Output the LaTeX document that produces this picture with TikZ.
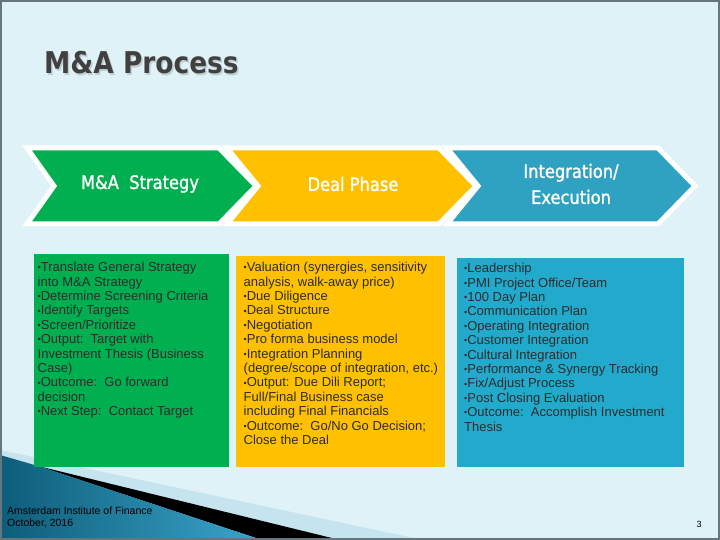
\documentclass[tikz,border=0pt]{standalone}
\usepackage{fontspec}
\setmainfont{Liberation Sans}
\newfontfamily\tahoma[FakeStretch=0.88]{DejaVu Sans}
\newfontfamily\tahomalabel[FakeStretch=0.88, FakeBold=1.3]{DejaVu Sans}
\usepackage{xcolor}
\usepackage{tikz}
\usetikzlibrary{positioning}

\definecolor{slidebg}{HTML}{DFF2F7}
\definecolor{strategygreen}{HTML}{00B050}
\definecolor{dealyellow}{HTML}{FFC000}
\definecolor{integblue}{HTML}{2FA2C2}
\definecolor{integbox}{HTML}{22AACD}
\definecolor{bodygrey}{HTML}{2C2C2C}
\definecolor{titlegrey}{HTML}{404040}
\definecolor{shadowgrey}{HTML}{C2CDD1}
\definecolor{framegrey}{HTML}{67757C}
\definecolor{swooshlight}{HTML}{C6E4EE}
\definecolor{tealdark}{HTML}{0D5D79}
\definecolor{teallight}{HTML}{3BA5CA}

\newcommand{\itembul}{{\fontsize{9}{9}\selectfont\raisebox{0.8pt}{•}}}

\begin{document}
\begin{tikzpicture}[x=1pt, y=-1pt,
    chevlabel/.style={font=\tahomalabel\fontsize{18.5}{26}\selectfont, text=white, align=center, inner sep=0pt},
    bodytext/.style={font=\fontsize{13}{14.4}\selectfont, text=bodygrey, align=left, anchor=north west, inner sep=0pt},
    chevron/.style={draw=white, line width=5pt, line join=miter}]

    % slide background
    \fill[slidebg] (0,0) rectangle (720,540);
    \useasboundingbox (0,0) rectangle (720,540);

    % swoosh in the lower left corner
    \fill[swooshlight] (0,450) -- (423,540) -- (0,540) -- cycle;
    \fill[black] (38,466) -- (340,540) -- (262,540) -- cycle;
    \shade[left color=tealdark, right color=teallight] (0,455) -- (38,466) -- (262,540) -- (0,540) -- cycle;

    % title
    \node[font=\tahoma\bfseries\fontsize{30}{34}\selectfont, text=shadowgrey, anchor=base west, inner sep=0pt] (titleshadow) at (45.5,75.5) {M\&A Process};
    \node[font=\tahoma\bfseries\fontsize{30}{34}\selectfont, text=titlegrey, anchor=base west, inner sep=0pt] (title) at (44,74) {M\&A Process};

    % the three phases
    \path[chevron, fill=strategygreen] (27,148) -- (219,148) -- (256,186) -- (219,224) -- (27,224) -- (54,186) -- cycle;
    \path[chevron, fill=dealyellow] (227,148) -- (439,148) -- (476,186) -- (439,224) -- (227,224) -- (258,186) -- cycle;
    \path[chevron, fill=integblue] (447,148) -- (658,148) -- (695,186) -- (658,224) -- (447,224) -- (478,186) -- cycle;

    \node[chevlabel] (strategy) at (140,184) {M\&A\ \ Strategy};
    \node[chevlabel] (deal) at (353,184) {Deal Phase};
    \node[chevlabel] (integration) at (571,184) {Integration/\\Execution};

    % boxes with the steps
    \fill[strategygreen] (34,254) rectangle (229,467);
    \fill[dealyellow] (236,256) rectangle (445,467);
    \fill[integbox] (457,258) rectangle (684,467);

    \node[bodytext] (strategysteps) at (37.5,262) {%
        \itembul Translate General Strategy\\
        into M\&A Strategy\\
        \itembul Determine Screening Criteria\\
        \itembul Identify Targets\\
        \itembul Screen/Prioritize\\
        \itembul Output:\ \ Target with\\
        Investment Thesis (Business\\
        Case)\\
        \itembul Outcome:\ \ Go forward\\
        decision\\
        \itembul Next Step:\ \ Contact Target};
    \node[bodytext] (dealsteps) at (243.5,262) {%
        \itembul Valuation (synergies, sensitivity\\
        analysis, walk-away price)\\
        \itembul Due Diligence\\
        \itembul Deal Structure\\
        \itembul Negotiation\\
        \itembul Pro forma business model\\
        \itembul Integration Planning\\
        (degree/scope of integration, etc.)\\
        \itembul Output: Due Dili Report;\\
        Full/Final Business case\\
        including Final Financials\\
        \itembul Outcome:\ \ Go/No Go Decision;\\
        Close the Deal};
    \node[bodytext] (integrationsteps) at (464,263) {%
        \itembul Leadership\\
        \itembul PMI Project Office/Team\\
        \itembul 100 Day Plan\\
        \itembul Communication Plan\\
        \itembul Operating Integration\\
        \itembul Customer Integration\\
        \itembul Cultural Integration\\
        \itembul Performance \& Synergy Tracking\\
        \itembul Fix/Adjust Process\\
        \itembul Post Closing Evaluation\\
        \itembul Outcome:\ \ Accomplish Investment\\
        Thesis};

    % footer
    \node[font=\fontsize{10.5}{12}\selectfont, align=left, anchor=north west, inner sep=0pt] (footnote) at (7,507) {Amsterdam Institute of Finance\\October, 2016};
    \node[font=\fontsize{9}{9}\selectfont, anchor=base, inner sep=0pt] (pagenum) at (699,527) {3};

    % frame
    \draw[framegrey, line width=2pt] (1,1) rectangle (719,539);
\end{tikzpicture}
\end{document}
